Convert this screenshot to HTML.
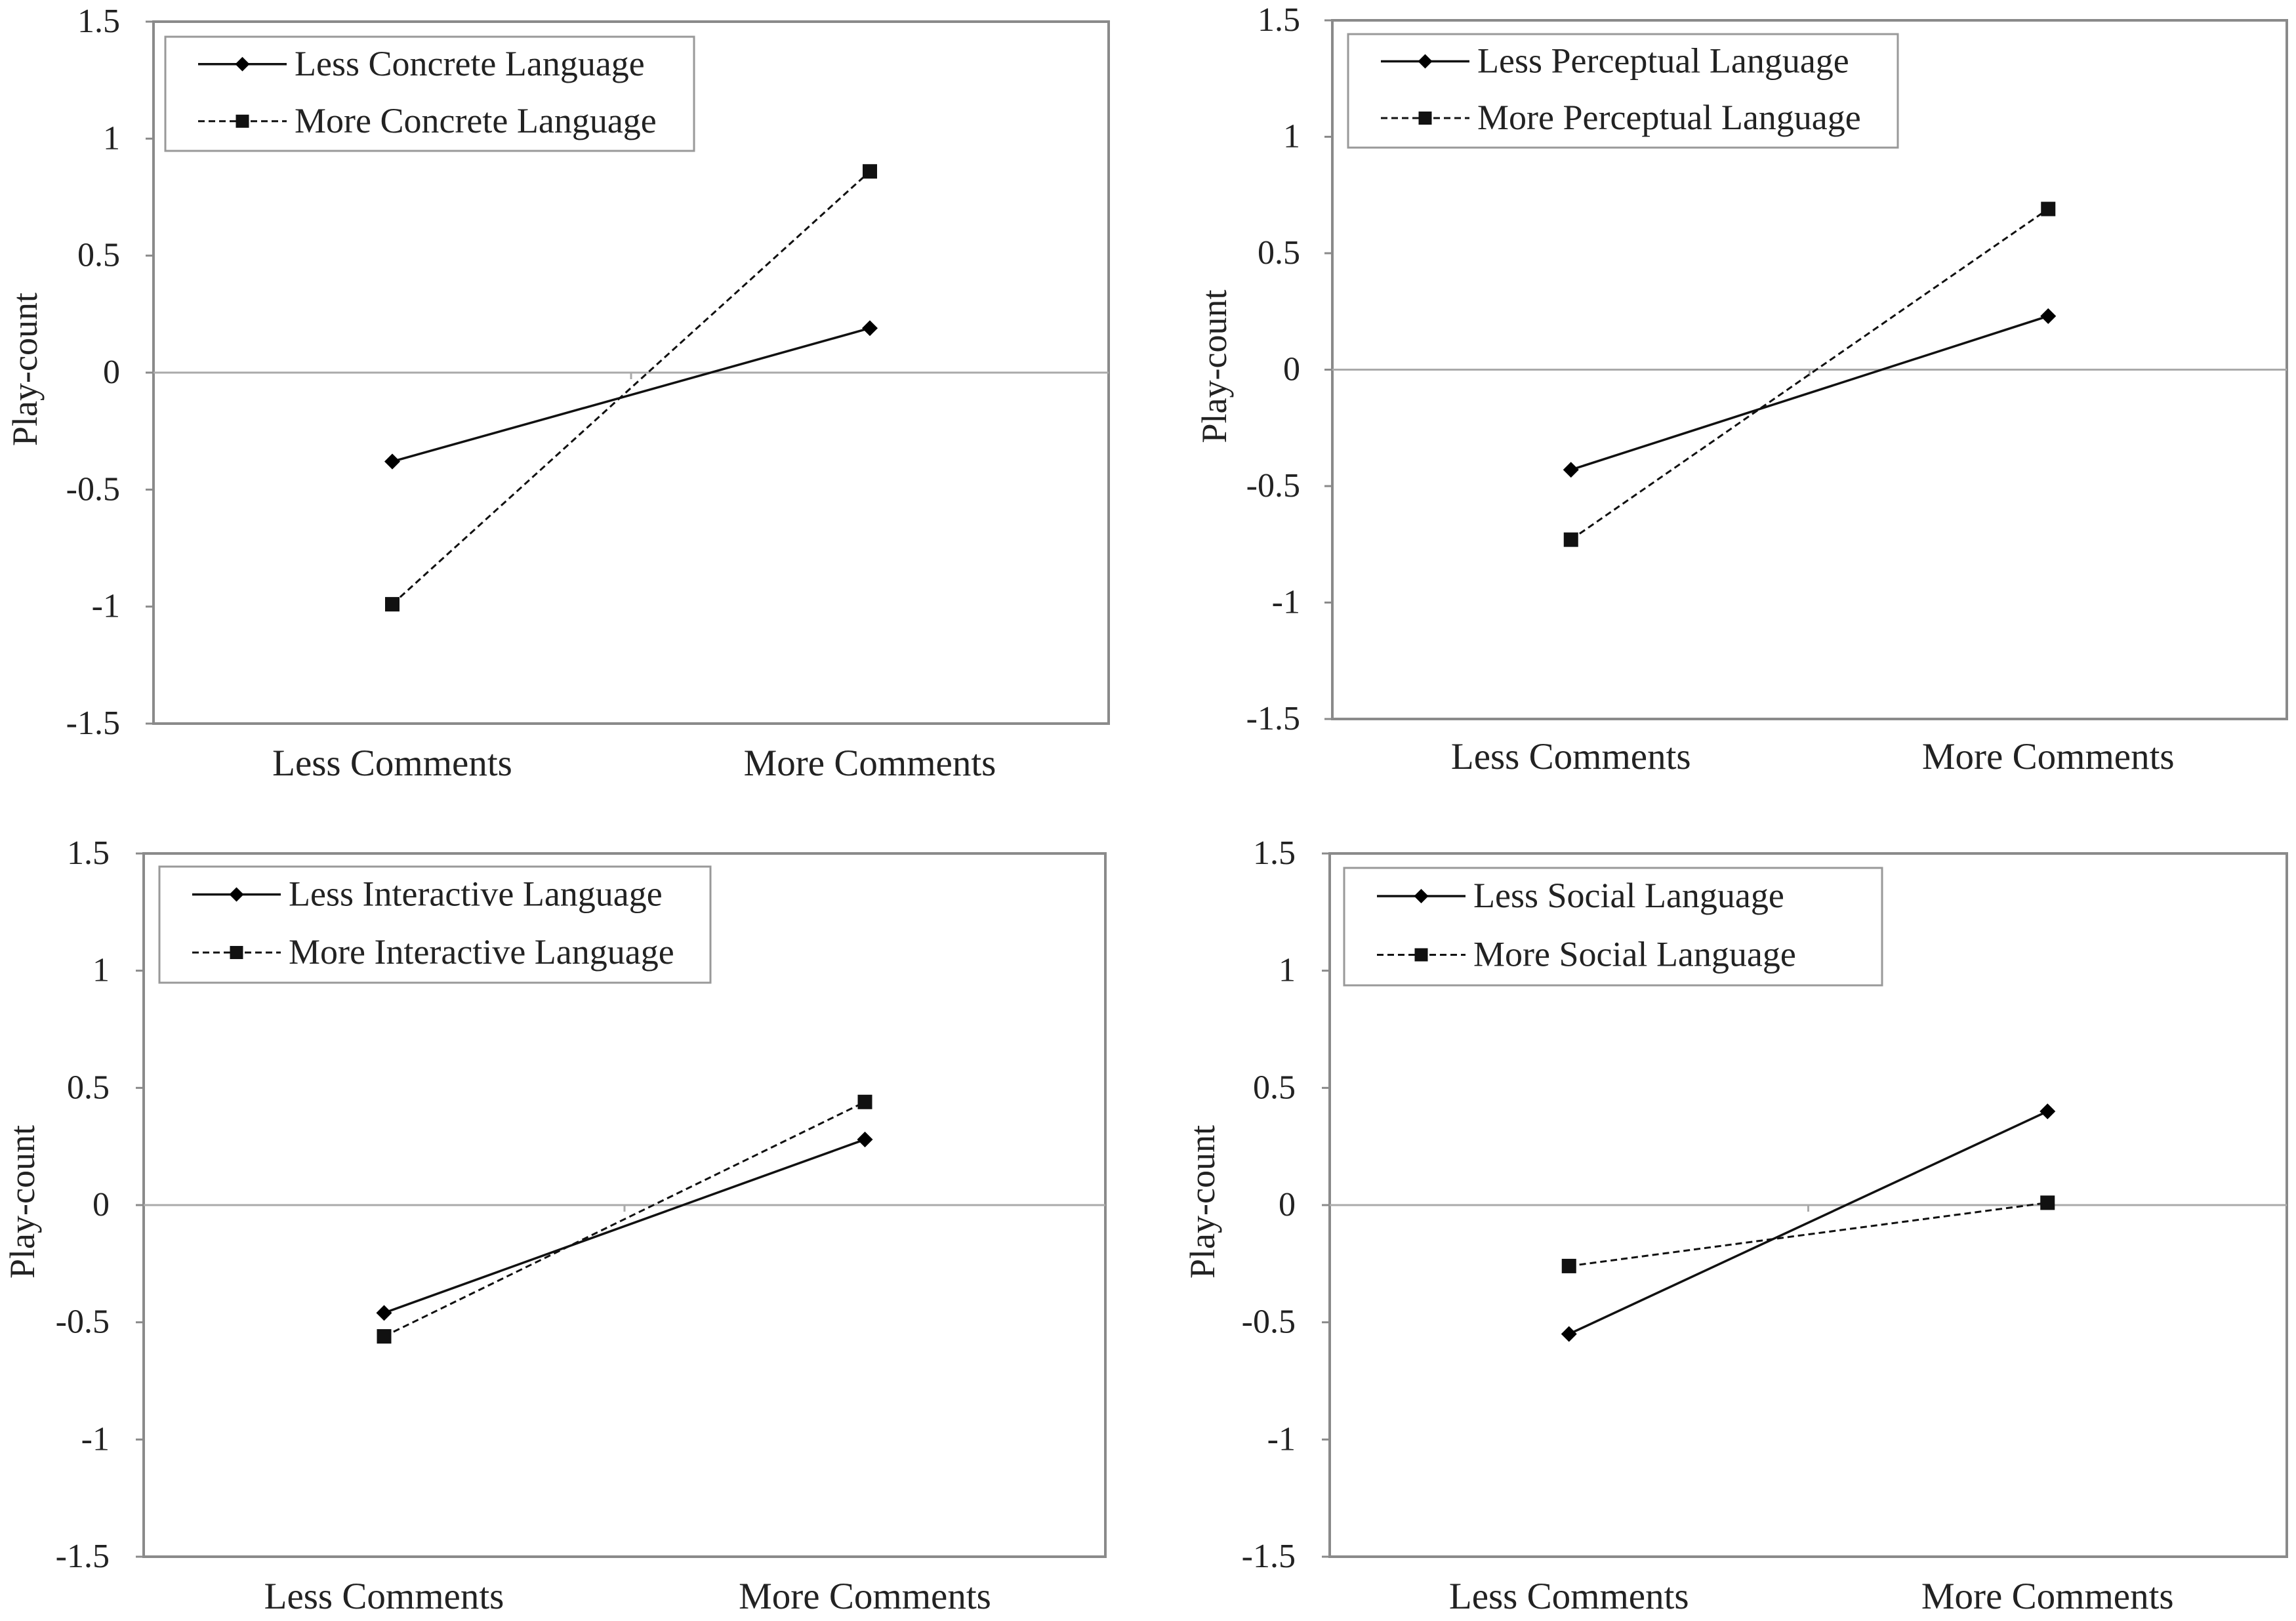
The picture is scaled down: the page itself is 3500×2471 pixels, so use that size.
<!DOCTYPE html>
<html><head><meta charset="utf-8"><style>
html,body{margin:0;padding:0;background:#fff;}
svg{display:block;font-family:"Liberation Serif",serif;}
</style></head><body>
<svg id="chart" width="3500" height="2471" viewBox="0 0 3500 2471" xmlns="http://www.w3.org/2000/svg"></svg>
<script>
const categories = ["Less Comments", "More Comments"];
const yTicks = [1.5, 1, 0.5, 0, -0.5, -1, -1.5];
const tickLabels = ["1.5", "1", "0.5", "0", "-0.5", "-1", "-1.5"];
const panelNames = ["concrete", "perceptual", "interactive", "social"];
const lessLabels = ["Less Concrete Language", "Less Perceptual Language", "Less Interactive Language", "Less Social Language"];
const moreLabels = ["More Concrete Language", "More Perceptual Language", "More Interactive Language", "More Social Language"];
const lessValues = [[-0.38, 0.19], [-0.43, 0.23], [-0.46, 0.28], [-0.55, 0.40]];
const moreValues = [[-0.99, 0.86], [-0.73, 0.69], [-0.56, 0.44], [-0.26, 0.01]];

const layouts = [
  {x0:234, x1:1690, y0:33, y1:1103, lx:252, ly:56, lw:806, lh:174, tickX:183, ylabX:40, catY:1182},
  {x0:2031, x1:3486, y0:31, y1:1096, lx:2055, ly:52, lw:838, lh:173, tickX:1982, ylabX:1853, catY:1172},
  {x0:219, x1:1685, y0:1301, y1:2373, lx:243, ly:1321, lw:840, lh:177, tickX:167, ylabX:36, catY:2452},
  {x0:2027, x1:3486, y0:1301, y1:2373, lx:2049, ly:1323, lw:820, lh:179, tickX:1975, ylabX:1835, catY:2452}
];
const svg = document.getElementById('chart');
const NS = "http://www.w3.org/2000/svg";
function mk(tag, attrs, parent){const e=document.createElementNS(NS,tag);for(const k in attrs)e.setAttribute(k,attrs[k]);parent.appendChild(e);return e;}
function diamond(g,x,y,s){return mk('polygon',{points:`${x},${y-s} ${x+s},${y} ${x},${y+s} ${x-s},${y}`,fill:'#000'},g);}
function square(g,x,y,s){return mk('rect',{x:x-s,y:y-s,width:2*s,height:2*s,fill:'#111'},g);}

layouts.forEach((L,i)=>{
  const g = mk('g',{},svg);
  
  
  const yS = v => L.y0 + (1.5 - v) / 3 * (L.y1 - L.y0);
  const band = (L.x1 - L.x0) / categories.length;
  const xS = c => L.x0 + band * (c + 0.5);
  const frame = mk('rect',{x:L.x0,y:L.y0,width:L.x1-L.x0,height:L.y1-L.y0,fill:'none',stroke:'#8a8a8a','stroke-width':4},g);
  
  
  const zl = mk('line',{x1:L.x0,x2:L.x1,y1:yS(0),y2:yS(0),stroke:'#aaa','stroke-width':3},g);
  
  
  mk('line',{x1:L.x0+band,x2:L.x0+band,y1:yS(0),y2:yS(0)+10,stroke:'#aaa','stroke-width':3},g);
  yTicks.forEach((t,k)=>{
    mk('line',{x1:L.x0-12,x2:L.x0,y1:yS(t),y2:yS(t),stroke:'#8a8a8a','stroke-width':3},g);
    const tx = mk('text',{x:L.tickX,y:yS(t)+16,'text-anchor':'end','font-size':52,fill:'#222'},g);
    tx.textContent = tickLabels[k];
    
    
  });
  categories.forEach((c,k)=>{
    const tx = mk('text',{x:xS(k),y:L.catY,'text-anchor':'middle','font-size':57,fill:'#222'},g);
    tx.textContent = c;
    
    
  });
  const cy = (L.y0+L.y1)/2 - 5;
  const yl = mk('text',{x:L.ylabX,y:cy,'text-anchor':'middle','font-size':54,fill:'#222',transform:`rotate(-90 ${L.ylabX} ${cy}) translate(0 16)`},g);
  yl.textContent = 'Play-count';
  
  
  const lp = lessValues[i].map((v,k)=>`${xS(k)},${yS(v)}`).join(' ');
  const l1 = mk('polyline',{points:lp,fill:'none',stroke:'#111','stroke-width':3.5},g);
  
  
  const mp = moreValues[i].map((v,k)=>`${xS(k)},${yS(v)}`).join(' ');
  const l2 = mk('polyline',{points:mp,fill:'none',stroke:'#111','stroke-width':3,'stroke-dasharray':'10 6'},g);
  
  
  lessValues[i].forEach((v,k)=>{
    const d = diamond(g,xS(k),yS(v),12);
    
    
  });
  moreValues[i].forEach((v,k)=>{
    const s = square(g,xS(k),yS(v),11);
    
    
  });
  const lg = mk('g',{},g);
  
  
  mk('rect',{x:L.lx,y:L.ly,width:L.lw,height:L.lh,fill:'#fff',stroke:'#999','stroke-width':3},lg);
  const r1 = L.ly + L.lh*0.24, r2 = L.ly + L.lh*0.74;
  const sx0 = L.lx + 50, sx1 = L.lx + 185, sm = (sx0+sx1)/2;
  mk('line',{x1:sx0,x2:sx1,y1:r1,y2:r1,stroke:'#111','stroke-width':3.5},lg);
  diamond(lg,sm,r1,11);
  mk('line',{x1:sx0,x2:sx1,y1:r2,y2:r2,stroke:'#111','stroke-width':3,'stroke-dasharray':'10 6'},lg);
  square(lg,sm,r2,10);
  const t1 = mk('text',{x:sx1+12,y:r1+17,'font-size':54,fill:'#222'},lg);
  t1.textContent = lessLabels[i];
  
  
  const t2 = mk('text',{x:sx1+12,y:r2+17,'font-size':54,fill:'#222'},lg);
  t2.textContent = moreLabels[i];
  
  
});
</script>
</body></html>
